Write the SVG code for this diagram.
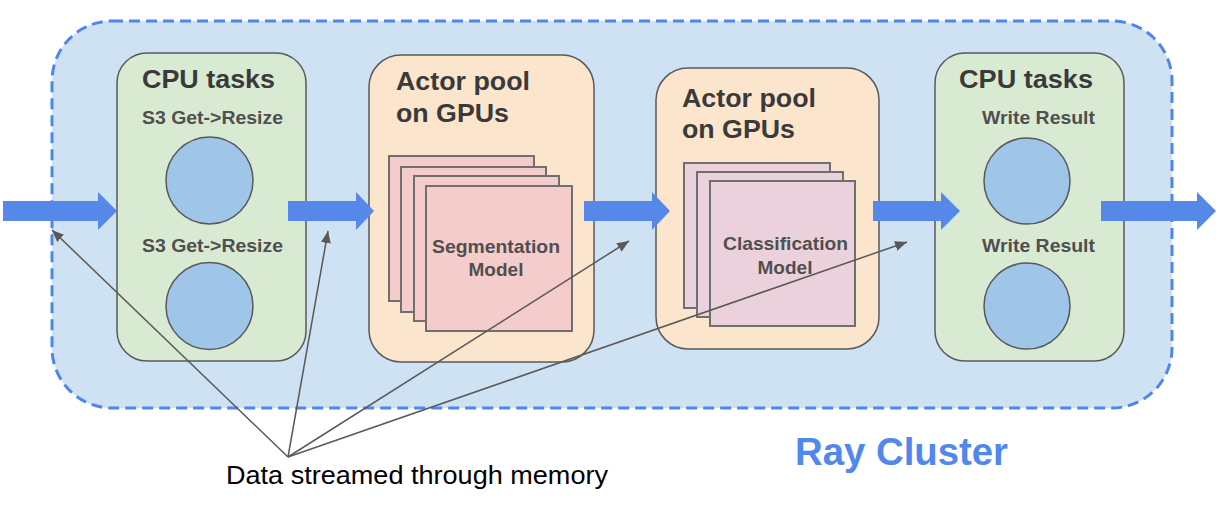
<svg xmlns="http://www.w3.org/2000/svg" width="1226" height="514" viewBox="0 0 1226 514">
  <defs>
    <style>
      .cpu { fill: #d9ead3; stroke: #595959; stroke-width: 1.5; }
      .gpu { fill: #fce5cd; stroke: #595959; stroke-width: 1.5; }
      .seg { fill: #f4cccc; stroke: #6f6f6f; stroke-width: 2; }
      .cls { fill: #ead1dc; stroke: #6f6f6f; stroke-width: 2; }
      .task { fill: #9fc5e8; stroke: #595959; stroke-width: 1.5; }
      .title { font-family: "Liberation Sans", Arial, sans-serif; font-weight: bold; font-size: 26px; fill: #3a3a3a; }
      .sub { font-family: "Liberation Sans", Arial, sans-serif; font-weight: bold; font-size: 19px; fill: #4f4f4f; text-anchor: middle; }
      .flow { fill: #5588e8; }
      .thin { stroke: #595959; stroke-width: 1.5; fill: none; marker-end: url(#tip); }
      .note { font-family: "Liberation Sans", Arial, sans-serif; font-size: 25px; fill: #000000; }
      .cluster { font-family: "Liberation Sans", Arial, sans-serif; font-weight: bold; font-size: 38px; fill: #5088ec; }
    </style>
    <marker id="tip" viewBox="0 0 12 10" refX="12" refY="5" markerWidth="12" markerHeight="10" markerUnits="userSpaceOnUse" orient="auto">
      <path d="M0,0 L12,5 L0,10 Z" fill="#595959"/>
    </marker>
  </defs>

  <g id="ray-cluster">
    <rect x="52" y="21" width="1120" height="387" rx="60" ry="60" fill="#cfe2f3" stroke="#4f86ec" stroke-width="3" stroke-dasharray="11 6"/>
    <text class="cluster" x="795" y="465" textLength="213" lengthAdjust="spacingAndGlyphs">Ray Cluster</text>
  </g>

  <g id="cpu-tasks-1">
    <rect class="cpu" x="117" y="53" width="189" height="308" rx="30" ry="30"/>
    <text class="title" x="142" y="88" textLength="133" lengthAdjust="spacingAndGlyphs">CPU tasks</text>
    <text class="sub" x="212.5" y="124" textLength="141" lengthAdjust="spacingAndGlyphs">S3 Get-&gt;Resize</text>
    <circle class="task" cx="209.5" cy="180.5" r="43.5"/>
    <text class="sub" x="212.5" y="252" textLength="141" lengthAdjust="spacingAndGlyphs">S3 Get-&gt;Resize</text>
    <circle class="task" cx="209.5" cy="306" r="43.5"/>
  </g>

  <g id="actor-pool-1">
    <rect class="gpu" x="369" y="55" width="225" height="307" rx="32" ry="32"/>
    <text class="title" x="396" y="90" textLength="134" lengthAdjust="spacingAndGlyphs">Actor pool</text>
    <text class="title" x="396" y="122" textLength="113" lengthAdjust="spacingAndGlyphs">on GPUs</text>
    <rect class="seg" x="389" y="156" width="145" height="145"/>
    <rect class="seg" x="401" y="167" width="145" height="145"/>
    <rect class="seg" x="414" y="176" width="145" height="145"/>
    <rect class="seg" x="426" y="186" width="146" height="145"/>
    <text class="sub" x="496" y="253" textLength="128" lengthAdjust="spacingAndGlyphs">Segmentation</text>
    <text class="sub" x="496" y="276">Model</text>
  </g>

  <g id="actor-pool-2">
    <rect class="gpu" x="656" y="68" width="223" height="281" rx="32" ry="32"/>
    <text class="title" x="682" y="107" textLength="134" lengthAdjust="spacingAndGlyphs">Actor pool</text>
    <text class="title" x="682" y="138" textLength="113" lengthAdjust="spacingAndGlyphs">on GPUs</text>
    <rect class="cls" x="684" y="163" width="146" height="145"/>
    <rect class="cls" x="697" y="172" width="146" height="145"/>
    <rect class="cls" x="710" y="181" width="145" height="145"/>
    <text class="sub" x="785.5" y="250" textLength="125" lengthAdjust="spacingAndGlyphs">Classification</text>
    <text class="sub" x="785" y="274">Model</text>
  </g>

  <g id="cpu-tasks-2">
    <rect class="cpu" x="935" y="53" width="189" height="308" rx="30" ry="30"/>
    <text class="title" x="959" y="88" textLength="134" lengthAdjust="spacingAndGlyphs">CPU tasks</text>
    <text class="sub" x="1038.5" y="124" textLength="113" lengthAdjust="spacingAndGlyphs">Write Result</text>
    <circle class="task" cx="1027" cy="181" r="43"/>
    <text class="sub" x="1038.5" y="252" textLength="113" lengthAdjust="spacingAndGlyphs">Write Result</text>
    <circle class="task" cx="1027" cy="306" r="43"/>
  </g>

  <g id="connectors">
    <g id="data-flow">
      <polygon class="flow" points="3,201 98,201 98,192 117,211 98,230 98,221 3,221"/>
      <polygon class="flow" points="288,201 356,201 356,192 374,211 356,230 356,221 288,221"/>
      <polygon class="flow" points="584,201 652,201 652,192 670,211 652,230 652,221 584,221"/>
      <polygon class="flow" points="873,201 941,201 941,192 960,211 941,230 941,221 873,221"/>
      <polygon class="flow" points="1101,201 1197,201 1197,192 1216,211 1197,230 1197,221 1101,221"/>
    </g>
    <g id="memory-pointers">
      <line class="thin" x1="288" y1="457" x2="52" y2="230"/>
      <line class="thin" x1="288" y1="457" x2="328" y2="231"/>
      <line class="thin" x1="288" y1="457" x2="629" y2="241"/>
      <line class="thin" x1="288" y1="457" x2="907" y2="242"/>
    </g>
  </g>

  <g id="memory-label">
    <text class="note" x="226" y="484" textLength="382" lengthAdjust="spacingAndGlyphs">Data streamed through memory</text>
  </g>
</svg>
